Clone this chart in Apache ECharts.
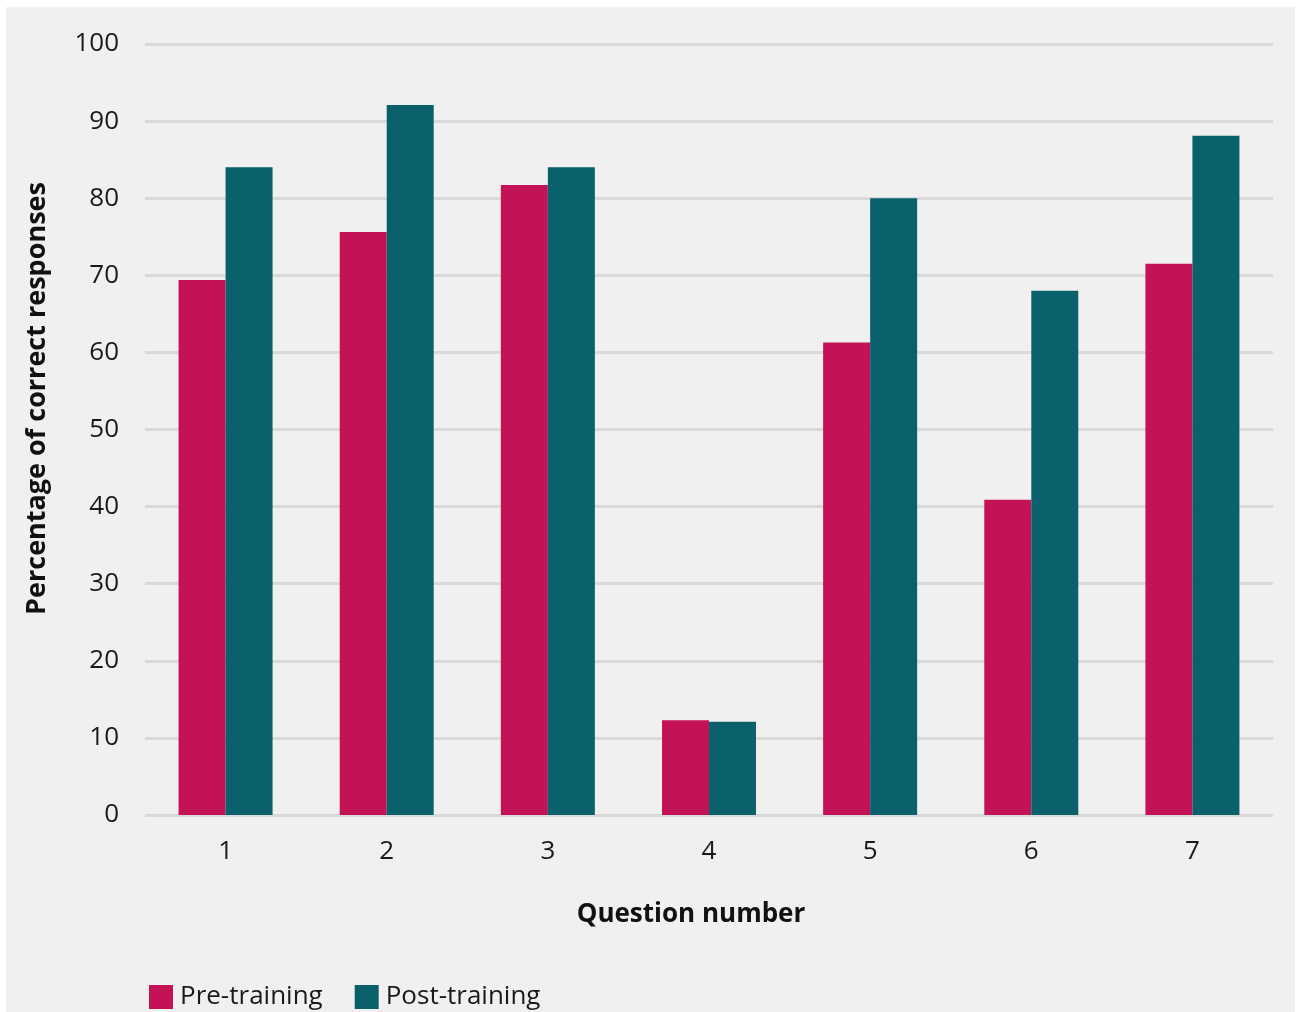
<!DOCTYPE html>
<html>
<head>
<meta charset="utf-8">
<script src="https://cdn.jsdelivr.net/npm/echarts@6/dist/echarts.min.js"></script>
<style>
  html, body { margin: 0; padding: 0; background: #ffffff; }
  #chart { width: 1299px; height: 1012px; }
</style>
</head>
<body>
<div id="chart"></div>
<script>
// Share of correct answers per question, before and after training
const questions = ['1', '2', '3', '4', '5', '6', '7'];
const preTraining = [69.4, 75.6, 81.7, 12.3, 61.3, 40.9, 71.5];
const postTraining = [84.0, 92.1, 84.0, 12.1, 80.0, 68.0, 88.1];
const yTicks = { min: 0, max: 100, interval: 10 };

const FONT = '"Open Sans", "DejaVu Sans", sans-serif';
const chart = echarts.init(document.getElementById('chart'));

chart.setOption({
  backgroundColor: '#ffffff',
  textStyle: { fontFamily: FONT },
  graphic: [{
    type: 'rect',
    z: -10,
    silent: true,
    shape: { x: 6, y: 7, width: 1289, height: 1005 },
    style: { fill: '#f0f0f0' }
  }],
  grid: { left: 145, right: 26, top: 44, bottom: 197, containLabel: false },
  legend: {
    left: 144,
    top: 979,
    itemWidth: 24,
    itemHeight: 24,
    itemGap: 32,
    icon: 'rect',
    textStyle: { fontFamily: FONT, fontSize: 26, color: '#1a1a1a', padding: [0, 0, 0, 2] },
    data: ['Pre-training', 'Post-training']
  },
  xAxis: {
    type: 'category',
    data: questions,
    name: 'Question number',
    nameLocation: 'middle',
    nameGap: 87,
    nameTextStyle: { fontFamily: FONT, fontSize: 26, fontWeight: 'bold', color: '#111111', padding: [0, 36, 0, 0] },
    axisLine: { show: false },
    axisTick: { show: false },
    axisLabel: { fontFamily: FONT, fontSize: 26, color: '#1a1a1a', margin: 24 }
  },
  yAxis: {
    type: 'value',
    min: yTicks.min,
    max: yTicks.max,
    interval: yTicks.interval,
    name: 'Percentage of correct responses',
    nameLocation: 'middle',
    nameGap: 94,
    nameTextStyle: { fontFamily: FONT, fontSize: 27, fontWeight: 'bold', color: '#111111', padding: [0, 0, 0, 62] },
    axisLine: { show: false },
    axisTick: { show: false },
    axisLabel: { fontFamily: FONT, fontSize: 26, color: '#1a1a1a', margin: 26 },
    splitLine: { lineStyle: { color: '#d9d9d9', width: 3 } }
  },
  series: [
    {
      name: 'Pre-training',
      type: 'bar',
      data: preTraining,
      barWidth: 47,
      barGap: '0%',
      itemStyle: { color: '#c41257' }
    },
    {
      name: 'Post-training',
      type: 'bar',
      data: postTraining,
      barWidth: 47,
      barGap: '0%',
      itemStyle: { color: '#0a616b' }
    }
  ]
});
</script>
</body>
</html>
